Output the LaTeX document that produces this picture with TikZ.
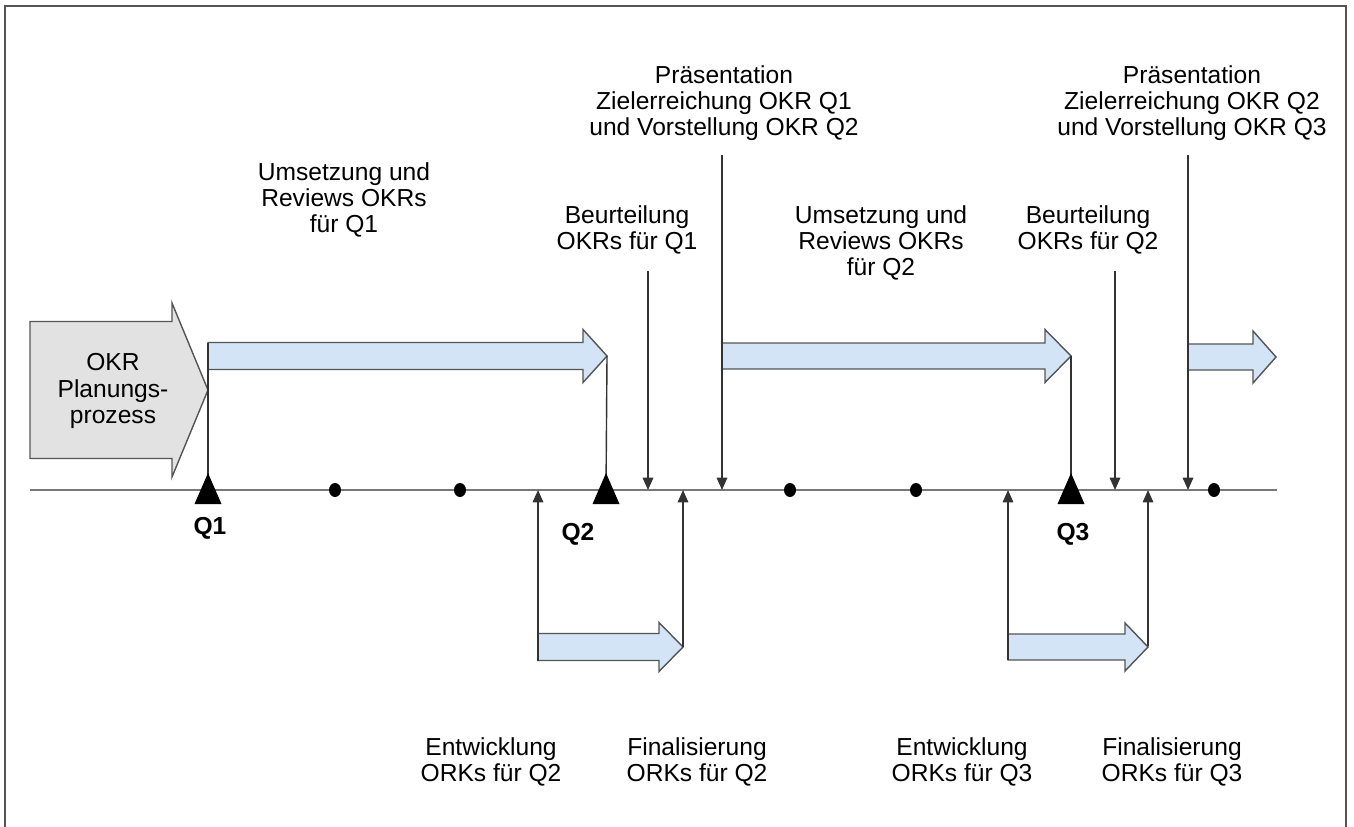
\documentclass[tikz,border=0pt]{standalone}
\usepackage{fontspec}
\setmainfont{Liberation Sans}
\usetikzlibrary{arrows.meta,calc}

\definecolor{zeitgrau}{RGB}{120,120,120}
\definecolor{randgrau}{RGB}{85,85,85}
\definecolor{pfeilblau}{RGB}{210,228,246}
\definecolor{planungsgrau}{RGB}{226,226,226}

% block arrow: style, x left, x head, x tip, y centre, half body, half head
\newcommand{\blockpfeil}[7]{%
  \draw[#1] (#2,{#5-#6}) -- (#3,{#5-#6}) -- (#3,{#5-#7}) -- (#4,#5)
    -- (#3,{#5+#7}) -- (#3,{#5+#6}) -- (#2,{#5+#6}) -- cycle;}
% quarter mark: big black triangle on the time line
\newcommand{\quartal}[1]{%
  \fill[black] ($(#1)+(0,-17)$) -- ($(#1)+(13.5,14)$) -- ($(#1)+(-13.5,14)$) -- cycle;}

\tikzset{
  lbl/.style={align=center, inner sep=0pt, font=\fontsize{14}{15}\selectfont},
  qlbl/.style={inner sep=0pt, font=\fontsize{14}{16}\selectfont\bfseries},
  zeiger/.style={draw=black!80, line width=0.8pt, -{Triangle[width=6pt,length=7pt]}},
  senkrecht/.style={draw=black!80, line width=0.8pt},
  blau/.style={draw=randgrau, line width=0.8pt, fill=pfeilblau},
  grau/.style={draw=randgrau, line width=0.8pt, fill=planungsgrau},
}

\begin{document}
\begin{tikzpicture}[x=0.02cm, y=-0.02cm]
    \useasboundingbox (0,0) rectangle (1354,827);
    % frame
    \draw [randgrau, line width=1.2pt] (5,830) -- (5,6) -- (1346,6) -- (1346,830);

    % points on the time line
    \coordinate (start) at (30,490);
    \coordinate (ende) at (1277,490);
    \coordinate (q1) at (208,490);
    \coordinate (q2) at (606,490);
    \coordinate (q3) at (1071,490);
    \coordinate (b1) at (648,490);
    \coordinate (p1) at (722,490);
    \coordinate (b2) at (1115,490);
    \coordinate (p2) at (1188,490);
    \coordinate (e2) at (538,490);
    \coordinate (f2) at (683,490);
    \coordinate (e3) at (1008,490);
    \coordinate (f3) at (1148,490);
    % free ends of the pointers
    \coordinate (b1o) at (648,271);
    \coordinate (p1o) at (722,155);
    \coordinate (b2o) at (1115,271);
    \coordinate (p2o) at (1188,155);
    \coordinate (e2u) at (538,661);
    \coordinate (f2u) at (683,647);
    \coordinate (e3u) at (1008,660);
    \coordinate (f3u) at (1148,646);
    \coordinate (q1o) at (208,343);
    \coordinate (q2o) at (607,356);
    \coordinate (q3o) at (1071,356);

    % block arrows
    \blockpfeil{grau}{30}{172}{208}{390}{68.5}{87}
    \blockpfeil{blau}{208}{583}{607}{356}{13.5}{26.5}
    \blockpfeil{blau}{722}{1045}{1071}{356}{13}{26.5}
    \blockpfeil{blau}{1188}{1253}{1276}{357}{13}{26}
    \blockpfeil{blau}{538}{659}{683}{647}{13.5}{24.5}
    \blockpfeil{blau}{1008}{1125}{1148}{647}{13}{24}

    % time line
    \draw [zeitgrau, line width=1.1pt] (start) -- (ende);
    \foreach \x in {335,460,790,916,1214}
        \fill [black] (\x,490) ellipse (6 and 7);

    % quarters
    \draw [senkrecht] (q1o) -- (q1);
    \draw [senkrecht] (q2o) -- (q2);
    \draw [senkrecht] (q3o) -- (q3);
    \quartal{q1}
    \quartal{q2}
    \quartal{q3}

    % pointers
    \draw [zeiger] (b1o) -- (b1);
    \draw [zeiger] (p1o) -- (p1);
    \draw [zeiger] (b2o) -- (b2);
    \draw [zeiger] (p2o) -- (p2);
    \draw [zeiger] (e2u) -- (e2);
    \draw [zeiger] (f2u) -- (f2);
    \draw [zeiger] (e3u) -- (e3);
    \draw [zeiger] (f3u) -- (f3);

    % labels
    \node [lbl] (planung) at (113,391) {OKR\\Planungs-\\prozess};
    \node [lbl] (umsQ1) at (344,200) {Umsetzung und\\Reviews OKRs\\für Q1};
    \node [lbl] (umsQ2) at (881,243) {Umsetzung und\\Reviews OKRs\\für Q2};
    \node [lbl] (beuQ1) at (627,230) {Beurteilung\\OKRs für Q1};
    \node [lbl] (beuQ2) at (1088,230) {Beurteilung\\OKRs für Q2};
    \node [lbl] (praeQ1) at (724,103) {Präsentation\\Zielerreichung OKR Q1\\und Vorstellung OKR Q2};
    \node [lbl] (praeQ2) at (1192,103) {Präsentation\\Zielerreichung OKR Q2\\und Vorstellung OKR Q3};
    \node [lbl] (entQ2) at (491,762) {Entwicklung\\ORKs für Q2};
    \node [lbl] (finQ2) at (697,762) {Finalisierung\\ORKs für Q2};
    \node [lbl] (entQ3) at (962,762) {Entwicklung\\ORKs für Q3};
    \node [lbl] (finQ3) at (1172,762) {Finalisierung\\ORKs für Q3};
    \node [qlbl] (lq1) at (210,528) {Q1};
    \node [qlbl] (lq2) at (578,534) {Q2};
    \node [qlbl] (lq3) at (1073,534) {Q3};
\end{tikzpicture}
\end{document}
